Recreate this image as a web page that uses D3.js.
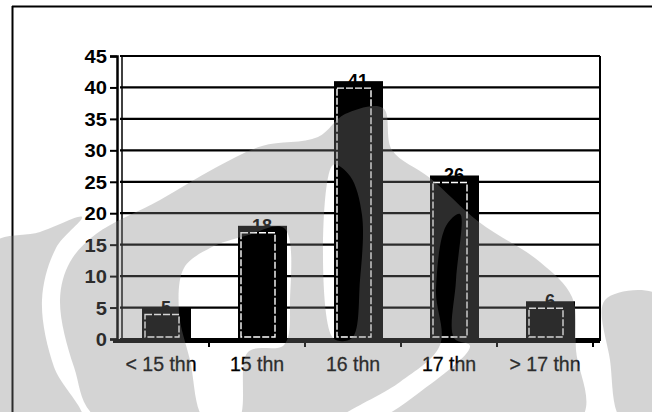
<!DOCTYPE html>
<html>
<head>
<meta charset="utf-8">
<script src="https://cdn.jsdelivr.net/npm/d3@7"></script>
<style>
  html, body { margin: 0; padding: 0; background: #fff; }
  svg { display: block; }
  text { font-family: "Liberation Sans", Arial, sans-serif; fill: #000; }
</style>
</head>
<body>
<svg id="chart" width="652" height="412"></svg>
<script>
// Age distribution – counts per age group
const categories = ["< 15 thn", "15 thn", "16 thn", "17 thn", "> 17 thn"];
const values = [5, 18, 41, 26, 6];
const yTicks = [0, 5, 10, 15, 20, 25, 30, 35, 40, 45];

const W = 652, H = 412;
const svg = d3.select("#chart");

const x = d3.scaleBand().domain(categories).range([113, 593]).paddingInner(0).paddingOuter(0);
const y = d3.scaleLinear().domain([0, 45]).range([339, 56]);
const cx = c => x(c) + x.bandwidth() / 2;

// page frame (top and left rules)
svg.append("line").attr("x1", 12).attr("x2", W).attr("y1", 6.5).attr("y2", 6.5)
  .attr("stroke", "#000").attr("stroke-width", 2);
svg.append("line").attr("x1", 12.5).attr("x2", 12.5).attr("y1", 6).attr("y2", H)
  .attr("stroke", "#000").attr("stroke-width", 2);

const plot = svg.append("g");

// back-wall gridlines
plot.selectAll(".grid").data(yTicks).join("line")
  .attr("class", "grid")
  .attr("x1", 120).attr("x2", 600)
  .attr("y1", d => y(d)).attr("y2", d => y(d))
  .attr("stroke", "#000").attr("stroke-width", 2.2);

// right edge of the back wall
plot.append("line").attr("x1", 600).attr("x2", 600)
  .attr("y1", y(45)).attr("y2", y(0) + 2)
  .attr("stroke", "#000").attr("stroke-width", 2);

// side wall edge (second rule of the double axis line)
plot.append("line").attr("x1", 122).attr("x2", 122)
  .attr("y1", y(45)).attr("y2", y(0))
  .attr("stroke", "#000").attr("stroke-width", 1.5);

// y axis with ticks and bold labels
const yAxis = d3.axisLeft(y).tickValues(yTicks).tickSize(7).tickPadding(2).tickFormat(d3.format("d"));
const yg = plot.append("g").attr("transform", "translate(117,0)").call(yAxis);
yg.select(".domain").attr("stroke", "#000").attr("stroke-width", 2.5);
yg.selectAll(".tick line").attr("stroke", "#000").attr("stroke-width", 2);
yg.selectAll(".tick text")
  .style("font-family", "'Liberation Sans', Arial, sans-serif")
  .style("font-size", "18px").style("font-weight", "bold")
  .attr("fill", "#000").attr("dy", "0.36em")
  .attr("transform", "scale(1.12,1)")
  .attr("x", -10 / 1.12);

// value labels (mostly hidden behind the bar tops)
plot.selectAll(".vlabel").data(values).join("text")
  .attr("class", "vlabel")
  .attr("x", (d, i) => cx(categories[i]) + 5)
  .attr("y", d => y(d) + 6)
  .attr("text-anchor", "middle")
  .style("font-size", "18px").style("font-weight", "bold")
  .text(d => d);

// bars: dark block with side depth, white dashed front face
const bars = plot.selectAll(".bar").data(values).join("g").attr("class", "bar");
bars.append("rect")
  .attr("x", (d, i) => cx(categories[i]) - 19)
  .attr("y", d => y(d))
  .attr("width", 49)
  .attr("height", d => y(0) + 1 - y(d))
  .attr("fill", "#000");
bars.append("rect")
  .attr("x", (d, i) => cx(categories[i]) - 16)
  .attr("y", d => y(d) + 7)
  .attr("width", 34)
  .attr("height", d => Math.max(0, y(0) - 2 - (y(d) + 7)))
  .attr("fill", "none")
  .attr("stroke", "#fff").attr("stroke-width", 1.4)
  .attr("stroke-dasharray", "7,2");

// floor / category axis
const xAxis = d3.axisBottom(x).tickSize(0).tickPadding(16);
const xg = plot.append("g").attr("transform", `translate(0,${y(0) + 2})`).call(xAxis);
xg.select(".domain").attr("stroke", "#000").attr("stroke-width", 4)
  .attr("d", "M113,0H600");
xg.selectAll(".tick text")
  .style("font-family", "'Liberation Sans', Arial, sans-serif")
  .style("font-size", "19.5px")
  .attr("fill", "#000").attr("stroke", "#000").attr("stroke-width", 0.3);

// category boundary ticks
const bounds = categories.map(c => x(c) + x.bandwidth());
plot.selectAll(".ctick").data(bounds).join("line")
  .attr("class", "ctick")
  .attr("x1", d => d).attr("x2", d => d)
  .attr("y1", y(0) + 2).attr("y2", y(0) + 8)
  .attr("stroke", "#000").attr("stroke-width", 2);

// faint emblem printed over the page
const wm = svg.append("g").attr("fill", "rgb(128,128,128)").attr("fill-opacity", 0.34)
  .style("pointer-events", "none");
const closed = d3.line().curve(d3.curveCatmullRomClosed.alpha(0.5));
const blob = [[100,420],[74,367],[60,300],[70,262],[96,234],[160,200],[215,168],[262,146],[318,137],[345,114],[383,108],[392,150],[430,178],[479,222],[540,262],[572,297],[576,350],[580,420]];
const holeLeft = [[205,420],[190,360],[179,312],[184,268],[210,248],[245,236],[284,228],[290,300],[284,345],[248,352],[238,420]];
const holeMid = [[333,165],[350,176],[362,215],[360,280],[352,338],[333,338]];
const holeRight = [[338,420],[400,382],[440,345],[436,290],[446,226],[460,214],[456,280],[454,338],[470,346],[420,392],[374,420]];
const bandLeft = [[-10,246],[40,232],[82,217],[56,248],[42,300],[54,367],[82,420],[-10,420]];
const bandRight = [[605,300],[660,296],[660,420],[622,420],[610,360]];
wm.append("path").attr("fill-rule", "evenodd")
  .attr("d", closed(blob) + closed(holeLeft) + closed(holeMid) + closed(holeRight));
wm.append("path").attr("d", closed(bandLeft));
wm.append("path").attr("d", closed(bandRight));
</script>
</body>
</html>
